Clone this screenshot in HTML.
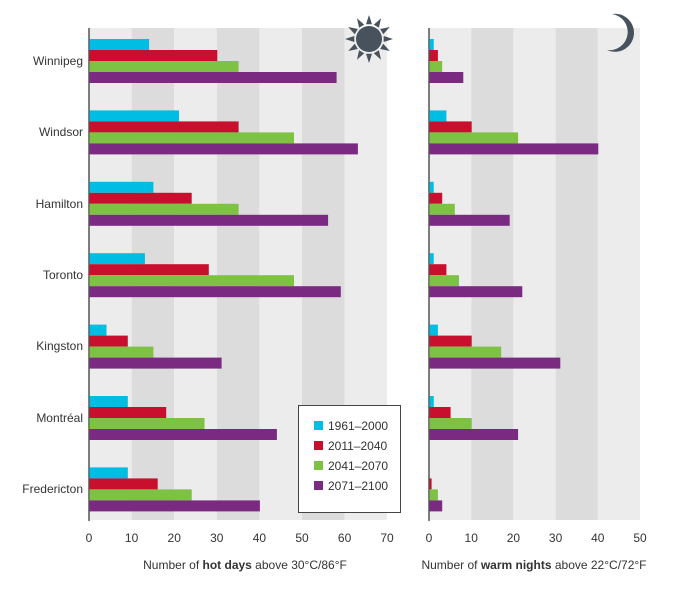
<!DOCTYPE html>
<html><head><style>body{margin:0;background:#fff}</style></head><body>
<svg width="697" height="587" xmlns="http://www.w3.org/2000/svg" font-family="Liberation Sans, sans-serif">
<rect x="89" y="28" width="42.6" height="492" fill="#ececed"/>
<rect x="131.6" y="28" width="42.6" height="492" fill="#dcdcdd"/>
<rect x="174.2" y="28" width="42.6" height="492" fill="#ececed"/>
<rect x="216.8" y="28" width="42.6" height="492" fill="#dcdcdd"/>
<rect x="259.4" y="28" width="42.6" height="492" fill="#ececed"/>
<rect x="302" y="28" width="42.6" height="492" fill="#dcdcdd"/>
<rect x="344.6" y="28" width="42.4" height="492" fill="#ececed"/>
<rect x="429" y="28" width="42.2" height="492" fill="#ececed"/>
<rect x="471.2" y="28" width="42.2" height="492" fill="#dcdcdd"/>
<rect x="513.4" y="28" width="42.2" height="492" fill="#ececed"/>
<rect x="555.6" y="28" width="42.2" height="492" fill="#dcdcdd"/>
<rect x="597.8" y="28" width="42.2" height="492" fill="#ececed"/>
<line x1="89" y1="28" x2="89" y2="521" stroke="#555" stroke-width="1.5"/>
<line x1="429" y1="28" x2="429" y2="521" stroke="#555" stroke-width="1.5"/>

<g fill="#00bde3">
<rect x="89.5" y="39" width="59.6" height="11"/>
<rect x="89.5" y="110.4" width="89.5" height="11"/>
<rect x="89.5" y="181.8" width="63.9" height="11"/>
<rect x="89.5" y="253.2" width="55.4" height="11"/>
<rect x="89.5" y="324.6" width="17" height="11"/>
<rect x="89.5" y="396" width="38.3" height="11"/>
<rect x="89.5" y="467.4" width="38.3" height="11"/>
<rect x="429.5" y="39" width="4.2" height="11"/>
<rect x="429.5" y="110.4" width="16.9" height="11"/>
<rect x="429.5" y="181.8" width="4.2" height="11"/>
<rect x="429.5" y="253.2" width="4.2" height="11"/>
<rect x="429.5" y="324.6" width="8.4" height="11"/>
<rect x="429.5" y="396" width="4.2" height="11"/>
</g>
<g fill="#c8102e">
<rect x="89.5" y="50" width="127.8" height="11"/>
<rect x="89.5" y="121.4" width="149.1" height="11"/>
<rect x="89.5" y="192.8" width="102.2" height="11"/>
<rect x="89.5" y="264.2" width="119.3" height="11"/>
<rect x="89.5" y="335.6" width="38.3" height="11"/>
<rect x="89.5" y="407" width="76.7" height="11"/>
<rect x="89.5" y="478.4" width="68.2" height="11"/>
<rect x="429.5" y="50" width="8.4" height="11"/>
<rect x="429.5" y="121.4" width="42.2" height="11"/>
<rect x="429.5" y="192.8" width="12.7" height="11"/>
<rect x="429.5" y="264.2" width="16.9" height="11"/>
<rect x="429.5" y="335.6" width="42.2" height="11"/>
<rect x="429.5" y="407" width="21.1" height="11"/>
<rect x="429.5" y="478.4" width="2.1" height="11"/>
</g>
<g fill="#7dc242">
<rect x="89.5" y="61" width="149.1" height="11"/>
<rect x="89.5" y="132.4" width="204.5" height="11"/>
<rect x="89.5" y="203.8" width="149.1" height="11"/>
<rect x="89.5" y="275.2" width="204.5" height="11"/>
<rect x="89.5" y="346.6" width="63.9" height="11"/>
<rect x="89.5" y="418" width="115" height="11"/>
<rect x="89.5" y="489.4" width="102.2" height="11"/>
<rect x="429.5" y="61" width="12.7" height="11"/>
<rect x="429.5" y="132.4" width="88.6" height="11"/>
<rect x="429.5" y="203.8" width="25.3" height="11"/>
<rect x="429.5" y="275.2" width="29.5" height="11"/>
<rect x="429.5" y="346.6" width="71.7" height="11"/>
<rect x="429.5" y="418" width="42.2" height="11"/>
<rect x="429.5" y="489.4" width="8.4" height="11"/>
</g>
<g fill="#7b2a82">
<rect x="89.5" y="72" width="247.1" height="11"/>
<rect x="89.5" y="143.4" width="268.4" height="11"/>
<rect x="89.5" y="214.8" width="238.6" height="11"/>
<rect x="89.5" y="286.2" width="251.3" height="11"/>
<rect x="89.5" y="357.6" width="132.1" height="11"/>
<rect x="89.5" y="429" width="187.4" height="11"/>
<rect x="89.5" y="500.4" width="170.4" height="11"/>
<rect x="429.5" y="72" width="33.8" height="11"/>
<rect x="429.5" y="143.4" width="168.8" height="11"/>
<rect x="429.5" y="214.8" width="80.2" height="11"/>
<rect x="429.5" y="286.2" width="92.8" height="11"/>
<rect x="429.5" y="357.6" width="130.8" height="11"/>
<rect x="429.5" y="429" width="88.6" height="11"/>
<rect x="429.5" y="500.4" width="12.7" height="11"/>
</g>

<g font-size="12" fill="#333" text-anchor="end">
<text x="83" y="65">Winnipeg</text><text x="83" y="136">Windsor</text><text x="83" y="208">Hamilton</text><text x="83" y="279">Toronto</text><text x="83" y="350">Kingston</text><text x="83" y="422">Montréal</text><text x="83" y="493">Fredericton</text>
</g>
<g font-size="12" fill="#333" text-anchor="middle">
<text x="89" y="542">0</text><text x="131.6" y="542">10</text><text x="174.2" y="542">20</text><text x="216.8" y="542">30</text><text x="259.4" y="542">40</text><text x="302" y="542">50</text><text x="344.6" y="542">60</text><text x="387" y="542">70</text>
<text x="429" y="542">0</text><text x="471.2" y="542">10</text><text x="513.4" y="542">20</text><text x="555.6" y="542">30</text><text x="597.8" y="542">40</text><text x="640" y="542">50</text>
<text x="245" y="569">Number of <tspan font-weight="bold">hot days</tspan> above 30°C/86°F</text>
<text x="534" y="569">Number of <tspan font-weight="bold">warm nights</tspan> above 22°C/72°F</text>
</g>
<rect x="298.5" y="405.5" width="102" height="107" fill="#fff" stroke="#444"/>
<g font-size="12" fill="#333">
<rect x="314" y="421" width="9" height="9" fill="#00bde3"/><text x="328" y="430">1961–2000</text>
<rect x="314" y="441" width="9" height="9" fill="#c8102e"/><text x="328" y="450">2011–2040</text>
<rect x="314" y="461" width="9" height="9" fill="#7dc242"/><text x="328" y="470">2041–2070</text>
<rect x="314" y="481" width="9" height="9" fill="#7b2a82"/><text x="328" y="490">2071–2100</text>
</g>
<g fill="#48525c">
<circle cx="369" cy="39" r="13"/>
<polygon points="393,39 383.7,42 383.7,36" transform="rotate(0 369 39)"/>
<polygon points="393,39 383.7,42 383.7,36" transform="rotate(30 369 39)"/>
<polygon points="393,39 383.7,42 383.7,36" transform="rotate(60 369 39)"/>
<polygon points="393,39 383.7,42 383.7,36" transform="rotate(90 369 39)"/>
<polygon points="393,39 383.7,42 383.7,36" transform="rotate(120 369 39)"/>
<polygon points="393,39 383.7,42 383.7,36" transform="rotate(150 369 39)"/>
<polygon points="393,39 383.7,42 383.7,36" transform="rotate(180 369 39)"/>
<polygon points="393,39 383.7,42 383.7,36" transform="rotate(210 369 39)"/>
<polygon points="393,39 383.7,42 383.7,36" transform="rotate(240 369 39)"/>
<polygon points="393,39 383.7,42 383.7,36" transform="rotate(270 369 39)"/>
<polygon points="393,39 383.7,42 383.7,36" transform="rotate(300 369 39)"/>
<polygon points="393,39 383.7,42 383.7,36" transform="rotate(330 369 39)"/>
<path d="M612 14 A19 19 0 1 1 607 50 A15 15 0 1 0 612 14Z"/>
</g>
</svg>
</body></html>
